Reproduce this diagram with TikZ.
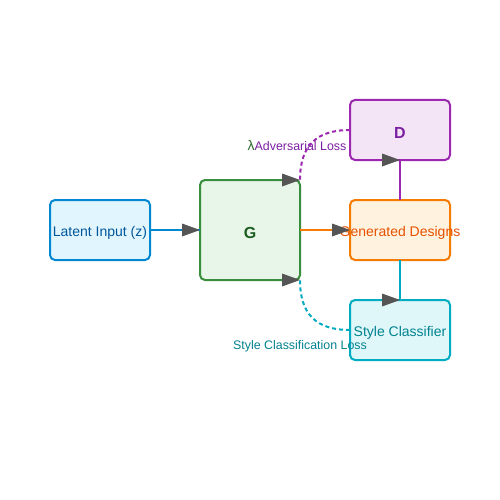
\documentclass[tikz,border=0pt]{standalone}
\usepackage{fontspec}
\setmainfont{Liberation Sans}
\definecolor{latB}{HTML}{0288D1}\definecolor{latF}{HTML}{E1F5FE}\definecolor{latT}{HTML}{01579B}
\definecolor{gB}{HTML}{388E3C}\definecolor{gF}{HTML}{E8F5E9}\definecolor{gT}{HTML}{1B5E20}
\definecolor{genB}{HTML}{F57C00}\definecolor{genF}{HTML}{FFF3E0}\definecolor{genT}{HTML}{E65100}
\definecolor{dB}{HTML}{9C27B0}\definecolor{dF}{HTML}{F3E5F5}\definecolor{dT}{HTML}{7B1FA2}
\definecolor{sB}{HTML}{00ACC1}\definecolor{sF}{HTML}{E0F7FA}\definecolor{sT}{HTML}{00838F}
\definecolor{tipC}{HTML}{555555}\definecolor{lamC}{HTML}{2E6B2E}
\newcommand\bt[1]{\raisebox{-3pt}[\height][\depth]{\makebox[0pt]{#1}}}
\begin{document}
\begin{tikzpicture}[x=1pt,y=-1pt,
  box/.style={draw, line width=2pt, rounded corners=5pt, rectangle, inner sep=0pt, outer sep=0pt,
    minimum width=100pt, font=\fontsize{14}{16}\selectfont},
  conn/.style={line width=2pt},
  dashconn/.style={line width=2pt, dash pattern=on 4pt off 3pt},
  lbl/.style={font=\fontsize{12.4}{14}\selectfont, inner sep=0pt}]
\useasboundingbox[fill=white] (0,0) rectangle (500,500);
\newcommand\rtip[1]{\fill[tipC] (#1) -- ++(-18,-6.5) -- ++(0,13) -- cycle;}
% nodes
\node[box, draw=latB, fill=latF, text=latT, minimum height=60pt] (lat) at (100,230) {\bt{Latent Input (z)}};
\node[box, draw=gB, fill=gF, text=gT, minimum height=100pt, font=\fontsize{16}{18}\selectfont\bfseries] (g) at (250,230) {\bt{G}};
\node[box, draw=genB, fill=genF, text=genT, minimum height=60pt] (gen) at (400,230) {\bt{Generated Designs}};
\node[box, draw=dB, fill=dF, text=dT, minimum height=60pt, font=\fontsize{16}{18}\selectfont\bfseries] (d) at (400,130) {\bt{D}};
\node[box, draw=sB, fill=sF, text=sT, minimum height=60pt] (sc) at (400,330) {\bt{Style Classifier}};
% labels
\node[lbl, text=dT] (lA) at (297,145) {{\color{lamC}\fontsize{14}{14}\selectfont λ}Adversarial Loss};
\node[lbl, text=sT] (lS) at (300,346) {Style Classification Loss};
% connectors
\draw[conn, latB] (lat.east) -- (g.west);
\draw[conn, genB] (g.east) -- (gen.west);
\draw[conn, dB] (gen.north) -- (d.south);
\draw[conn, sB] (gen.south) -- (sc.north);
\draw[dashconn, dB] (d.west) .. controls +(-34,0) and +(0,-34) .. (g.north east);
\draw[dashconn, sB] (sc.west) .. controls +(-34,0) and +(0,34) .. (g.south east);
% arrow tips (all pointing right)
\rtip{g.west}
\rtip{gen.west}
\rtip{d.south}
\rtip{sc.north}
\rtip{g.north east}
\rtip{g.south east}
\end{tikzpicture}
\end{document}
